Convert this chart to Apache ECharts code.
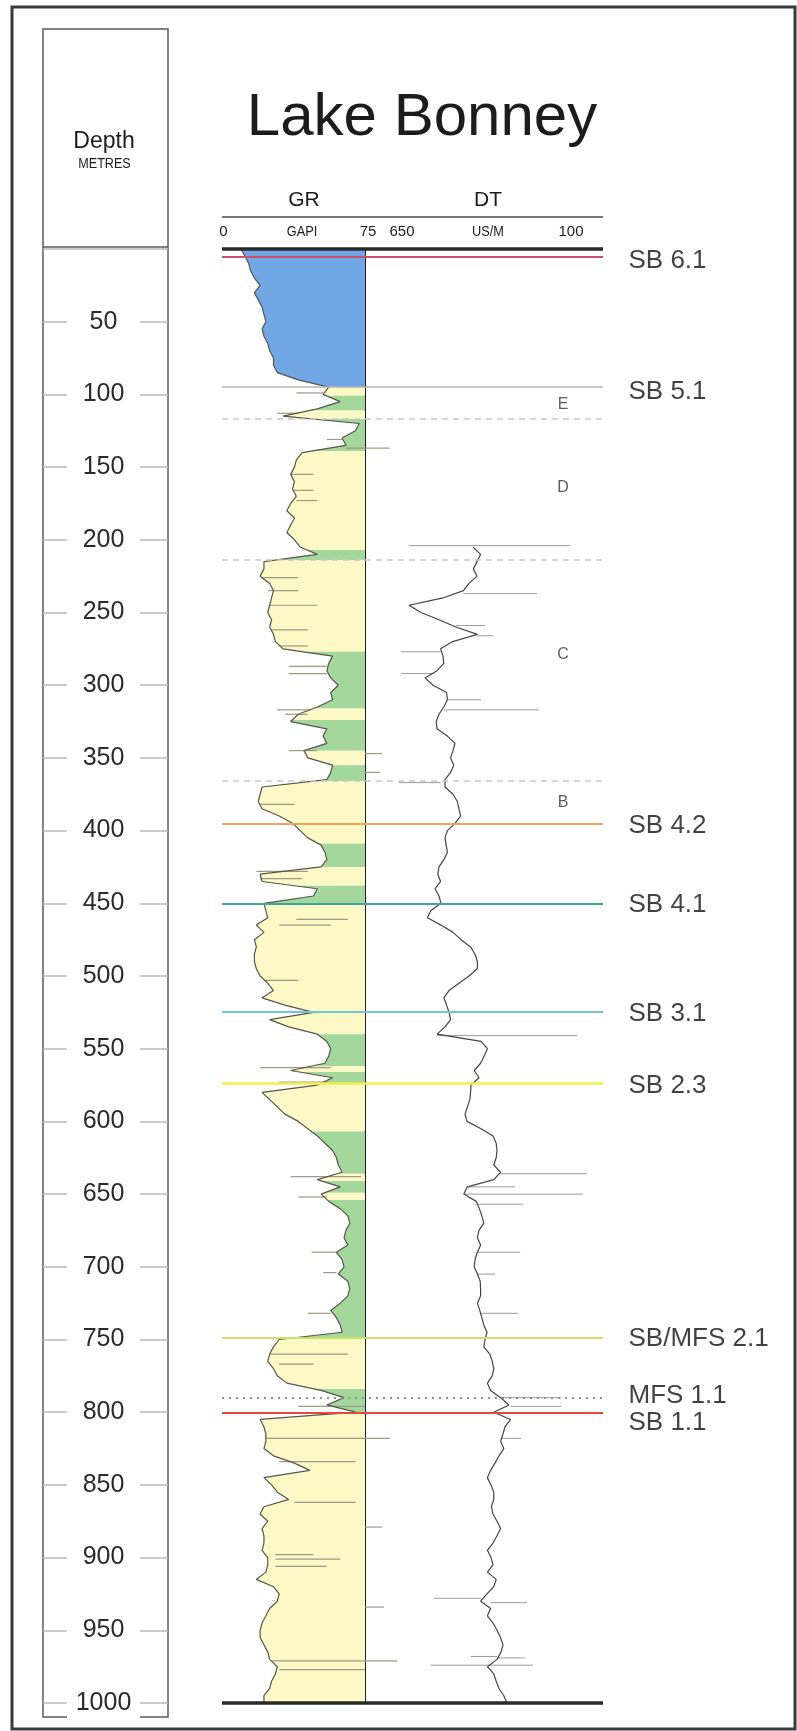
<!DOCTYPE html>
<html>
<head>
<meta charset="utf-8">
<title>Lake Bonney</title>
<script src="https://cdn.jsdelivr.net/npm/echarts@6/dist/echarts.min.js"></script>
<style>
  html, body { margin: 0; padding: 0; background: #ffffff; }
  #chart { width: 797px; height: 1731px; }
</style>
</head>
<body>
<div id="chart"></div>
<script>
// Gamma ray log (GAPI), regularly sampled from the surface
const GR_TOP = 0, GR_STEP = 5;
const GR = [
  10, 12, 14, 15, 17, 20, 17, 19, 21, 22,
  23, 21, 22, 24, 25, 27, 27, 29, 40, 56,
  53, 62, 50, 32, 72, 70, 63, 65, 42, 39,
  38, 36, 38, 37, 39, 36, 34, 38, 36, 34,
  38, 41, 50, 22, 22, 20, 25, 27, 26, 25,
  24, 26, 25, 27, 28, 32, 58, 56, 55, 57,
  61, 57, 58, 50, 40, 36, 55, 53, 55, 43,
  45, 58, 57, 55, 21, 20, 19, 21, 30, 37,
  41, 45, 52, 54, 55, 52, 20, 21, 50, 48,
  22, 23, 24, 18, 22, 17, 18, 17, 17, 18,
  20, 24, 27, 21, 33, 48, 25, 35, 50, 55,
  57, 56, 54, 36, 58, 50, 21, 25, 29, 33,
  40, 45, 50, 54, 58, 60, 61, 63, 50, 62,
  52, 56, 62, 66, 67, 65, 64, 66, 60, 63,
  64, 61, 66, 67, 66, 62, 57, 60, 62, 63,
  30, 27, 25, 24, 27, 29, 34, 52, 64, 55,
  70, 20, 22, 23, 23, 22, 27, 38, 46, 22,
  26, 29, 35, 22, 20, 24, 21, 22, 22, 21,
  24, 24, 23, 18, 27, 30, 29, 25, 23, 21,
  20, 20, 22, 24, 25, 29, 28, 26, 25, 22,
  22
];

// Sonic log (US/M), regularly sampled below the casing shoe
const DT_TOP = 205, DT_STEP = 5;
const DT = [
  380, 361, 370, 379, 370, 390, 404, 455, 540, 510,
  465, 423, 369, 431, 461, 455, 453, 470, 500, 480,
  446, 444, 453, 465, 472, 470, 444, 425, 430, 436,
  428, 436, 450, 450, 430, 419, 415, 411, 425, 444,
  450, 447, 444, 453, 465, 468, 461, 475, 465, 460,
  485, 494, 460, 430, 410, 386, 375, 369, 369, 390,
  415, 440, 453, 446, 440, 436, 450, 470, 360, 344,
  352, 361, 377, 365, 385, 386, 388, 394, 400, 395,
  360, 330, 322, 320, 322, 328, 311, 328, 394, 403,
  372, 364, 358, 353, 365, 369, 361, 369, 375, 377,
  369, 362, 361, 361, 369, 363, 358, 353, 345, 350,
  353, 338, 332, 328, 332, 344, 336, 311, 290, 328,
  286, 300, 305, 311, 303, 315, 325, 336, 344, 335,
  328, 328, 334, 330, 320, 311, 320, 330, 344, 335,
  330, 344, 322, 328, 345, 361, 336, 344, 330, 320,
  311, 305, 310, 320, 344, 328, 322, 315, 303, 295
];

// Thin single-reading excursions: [depth, from, to]
const GR_SPIKES = [
  [99, 39, 53], [113, 29, 40], [131, 55, 63], [137, 65, 88], [155, 36, 48],
  [166, 37, 48], [173, 39, 50], [226, 21, 40], [235, 24, 40], [245, 25, 50],
  [262, 26, 45], [273, 30, 45], [287, 35, 55], [292, 35, 55], [317, 29, 46],
  [320, 33, 45], [345, 35, 50], [347, 75, 84], [360, 75, 83], [382, 20, 38],
  [428, 18, 45], [433, 20, 42], [461, 39, 66], [465, 30, 57], [503, 22, 40],
  [563, 20, 57], [573, 30, 55], [638, 36, 73], [652, 40, 55], [690, 47, 60],
  [704, 53, 60], [732, 45, 57], [760, 25, 66], [767, 30, 48], [796, 40, 75],
  [818, 23, 88], [834, 30, 70], [862, 38, 70], [879, 75, 84], [898, 28, 48],
  [901, 28, 62], [906, 28, 55], [934, 75, 85], [971, 26, 75], [971, 75, 92],
  [977, 30, 75]
];
const DT_SPIKES = [
  [204, 540, 137], [237, 404, 220], [259, 423, 350], [266, 370, 330], [277, 461, 560],
  [292, 478, 560], [310, 444, 360], [317, 453, 215], [367, 461, 565], [541, 470, 120],
  [636, 311, 95], [645, 394, 275], [650, 403, 105], [657, 372, 255], [690, 369, 262],
  [705, 369, 325], [732, 361, 267], [790, 311, 160], [796, 286, 160], [818, 311, 260],
  [928, 361, 478], [931, 336, 245], [968, 320, 386], [969, 320, 250], [974, 344, 486],
  [974, 344, 230]
];

// Interpreted lithology intervals: [top, base, kind]
const LITHOLOGY = [
  [0, 95, 'carbonate'], [95, 101, 'sand'], [101, 111, 'shale'], [111, 117, 'sand'],
  [117, 139, 'shale'], [139, 207, 'sand'], [207, 214, 'shale'], [214, 277, 'sand'],
  [277, 316, 'shale'], [316, 324, 'sand'], [324, 345, 'shale'], [345, 355, 'sand'],
  [355, 366, 'shale'], [366, 409, 'sand'], [409, 425, 'shale'], [425, 438, 'sand'],
  [438, 450, 'shale'], [450, 540, 'sand'], [540, 562, 'shale'], [562, 566, 'sand'],
  [566, 574, 'shale'], [574, 607, 'sand'], [607, 636, 'shale'], [636, 641, 'sand'],
  [641, 649, 'shale'], [649, 654, 'sand'], [654, 749, 'shale'], [749, 784, 'sand'],
  [784, 800, 'shale'], [800, 1000, 'sand']
];

// Sequence surfaces
const SURFACE_NAMES  = ['SB 6.1', 'SB 5.1', 'SB 4.2', 'SB 4.1', 'SB 3.1', 'SB 2.3', 'SB/MFS 2.1', 'MFS 1.1', 'SB 1.1'];
const SURFACE_DEPTHS = [5.5, 95, 395.5, 450, 524.6, 574, 748.5, 790, 800.7];

// Informal units and their bases
const UNIT_NAMES  = ['E', 'D', 'C', 'B'];
const UNIT_LABEL_DEPTHS = [107, 164, 279, 381];
const UNIT_BOUNDS = [117, 213.5, 366];

const LOG_TOP = 0, LOG_BASE = 1000;

// ---- styling ----
const LITHO_COLORS = { carbonate: '#72a7e5', sand: '#fcf9c6', shale: '#a4d79b' };
const SURFACE_STYLE = {
  'SB 6.1':     { color: '#c9506e', width: 2 },
  'SB 5.1':     { color: '#b4b4b4', width: 1.5 },
  'SB 4.2':     { color: '#f2a55a', width: 2 },
  'SB 4.1':     { color: '#3ea79c', width: 2 },
  'SB 3.1':     { color: '#74c3d6', width: 2 },
  'SB 2.3':     { color: '#f4ee4a', width: 2.5 },
  'SB/MFS 2.1': { color: '#cbe168', width: 2 },
  'MFS 1.1':    { color: '#8f8f8f', width: 2, type: [2, 5] },
  'SB 1.1':     { color: '#e8453c', width: 2 }
};
const LABEL_NUDGE = { 'SB 6.1': 4, 'SB 5.1': 5, 'MFS 1.1': -2, 'SB 1.1': 10 };
const FONT = '"Liberation Sans", Arial, sans-serif';
const UNIT_LABEL_X = 0.895;

function grAt(d) {
  let i = (d - GR_TOP) / GR_STEP;
  let i0 = Math.max(0, Math.min(GR.length - 2, Math.floor(i)));
  let t = i - i0;
  return GR[i0] + (GR[i0 + 1] - GR[i0]) * t;
}

const grPoints = GR.map((v, i) => [v, GR_TOP + i * GR_STEP]);
const dtPoints = DT.map((v, i) => [v, DT_TOP + i * DT_STEP]);

const markLines = [];
markLines.push({ yAxis: LOG_TOP, lineStyle: { color: '#2a2a2a', width: 3.5, type: 'solid' } });
markLines.push({ yAxis: LOG_BASE, lineStyle: { color: '#2a2a2a', width: 3.5, type: 'solid' } });
UNIT_BOUNDS.forEach(d => markLines.push({ yAxis: d, lineStyle: { color: '#c9c9c9', width: 1.5, type: [6, 5] } }));
SURFACE_NAMES.forEach((n, i) => {
  const s = SURFACE_STYLE[n];
  markLines.push({ yAxis: SURFACE_DEPTHS[i], lineStyle: { color: s.color, width: s.width, type: s.type || 'solid' } });
});

const chart = echarts.init(document.getElementById('chart'), null, { renderer: 'canvas', width: 797, height: 1731 });

const hdr = (text, x, y, size, extra) => Object.assign({
  type: 'text', x: x, y: y, z: 10,
  style: { text: text, fontSize: size, fontFamily: FONT, fill: '#1c1c1c', align: 'center', verticalAlign: 'middle' }
}, extra || {});

const option = {
  animation: false,
  backgroundColor: '#ffffff',
  grid: [
    { left: 222, top: 249, width: 143, height: 1454 },
    { left: 365, top: 249, width: 220, height: 1454 },
    { left: 222, top: 249, width: 381, height: 1454 },
    { left: 43,  top: 249, width: 125, height: 1454 }
  ],
  xAxis: [
    { gridIndex: 0, type: 'value', min: 0, max: 75, show: false },
    { gridIndex: 1, type: 'value', min: 100, max: 650, inverse: true, show: false },
    { gridIndex: 2, type: 'value', min: 0, max: 1, show: false },
    { gridIndex: 3, type: 'value', min: 0, max: 1, show: false }
  ],
  yAxis: [
    { gridIndex: 0, type: 'value', min: LOG_TOP, max: LOG_BASE, inverse: true, show: false },
    { gridIndex: 1, type: 'value', min: LOG_TOP, max: LOG_BASE, inverse: true,
      axisLine: { show: true, lineStyle: { color: '#1e1e1e', width: 2 } },
      axisTick: { show: false }, axisLabel: { show: false }, splitLine: { show: false } },
    { gridIndex: 2, type: 'value', min: LOG_TOP, max: LOG_BASE, inverse: true, show: false },
    { gridIndex: 3, type: 'value', min: LOG_TOP, max: LOG_BASE, interval: 50, inverse: true,
      axisLine: { show: false }, axisTick: { show: false },
      splitLine: { show: true, lineStyle: { color: '#b9b9b9', width: 1.5 } },
      axisLabel: {
        showMinLabel: false,
        formatter: v => String(v),
        align: 'center', margin: -60.5,
        fontSize: 25, fontFamily: FONT, color: '#2a2a2a',
        backgroundColor: '#ffffff', width: 73, padding: [3, 0]
      } }
  ],
  series: [
    {
      type: 'custom', name: 'lithology', xAxisIndex: 0, yAxisIndex: 0, z: 1,
      data: LITHOLOGY.map(r => [r[0], r[1], 0]),
      encode: { y: [0, 1], x: 2 },
      renderItem: function (params, api) {
        const top = api.value(0), base = api.value(1);
        const kind = LITHOLOGY[params.dataIndex][2];
        const pts = [api.coord([75, top]), api.coord([grAt(top), top])];
        GR.forEach((v, k) => {
          const d = GR_TOP + k * GR_STEP;
          if (d > top && d < base) pts.push(api.coord([v, d]));
        });
        pts.push(api.coord([grAt(base), base]), api.coord([75, base]));
        return { type: 'polygon', shape: { points: pts }, style: { fill: LITHO_COLORS[kind] } };
      }
    },
    {
      type: 'custom', name: 'GR spikes', xAxisIndex: 0, yAxisIndex: 0, z: 2,
      data: GR_SPIKES, encode: { y: 0, x: [1, 2] },
      renderItem: function (params, api) {
        const a = api.coord([api.value(1), api.value(0)]);
        const b = api.coord([api.value(2), api.value(0)]);
        return { type: 'line', shape: { x1: a[0], y1: a[1], x2: b[0], y2: b[1] },
                 style: { stroke: '#9c9a82', lineWidth: 1.2 } };
      }
    },
    {
      type: 'line', name: 'GR', xAxisIndex: 0, yAxisIndex: 0, z: 3,
      data: grPoints, showSymbol: false, symbol: 'none',
      lineStyle: { color: '#55554a', width: 1.2 }
    },
    {
      type: 'custom', name: 'DT spikes', xAxisIndex: 1, yAxisIndex: 1, z: 2,
      data: DT_SPIKES, encode: { y: 0, x: [1, 2] },
      renderItem: function (params, api) {
        const a = api.coord([api.value(1), api.value(0)]);
        const b = api.coord([api.value(2), api.value(0)]);
        return { type: 'line', shape: { x1: a[0], y1: a[1], x2: b[0], y2: b[1] },
                 style: { stroke: '#9a9a9a', lineWidth: 1 } };
      }
    },
    {
      type: 'line', name: 'DT', xAxisIndex: 1, yAxisIndex: 1, z: 3,
      data: dtPoints, showSymbol: false, symbol: 'none',
      lineStyle: { color: '#444444', width: 1.2 }
    },
    {
      type: 'scatter', name: 'surfaces', xAxisIndex: 2, yAxisIndex: 2, z: 5,
      symbolSize: 1, itemStyle: { color: 'rgba(0,0,0,0)' }, silent: true,
      data: SURFACE_NAMES.map((n, i) => ({
        value: [1, SURFACE_DEPTHS[i]], name: n,
        label: { offset: [0, LABEL_NUDGE[n] !== undefined ? LABEL_NUDGE[n] : 2] }
      })),
      label: {
        show: true, position: 'right', distance: 25,
        formatter: p => p.name,
        fontSize: 26, fontFamily: FONT, color: '#111111'
      },
      markLine: { silent: true, symbol: ['none', 'none'], label: { show: false }, data: markLines }
    },
    {
      type: 'scatter', name: 'units', xAxisIndex: 2, yAxisIndex: 2, z: 5,
      symbolSize: 1, itemStyle: { color: 'rgba(0,0,0,0)' }, silent: true,
      data: UNIT_NAMES.map((n, i) => ({ value: [UNIT_LABEL_X, UNIT_LABEL_DEPTHS[i]], name: n })),
      label: { show: true, position: 'inside', formatter: p => p.name,
               fontSize: 16, fontFamily: FONT, color: '#333333' }
    }
  ],
  graphic: [
    { type: 'rect', z: 0, shape: { x: 12, y: 7, width: 783, height: 1722 },
      style: { fill: 'none', stroke: '#3a3a3a', lineWidth: 3 } },
    { type: 'rect', z: 0, shape: { x: 43, y: 29, width: 125, height: 1688 },
      style: { fill: 'none', stroke: '#5a5a5a', lineWidth: 1.5 } },
    { type: 'line', z: 20, shape: { x1: 43, y1: 247, x2: 168, y2: 247 },
      style: { stroke: '#5a5a5a', lineWidth: 1.5 } },
    { type: 'line', z: 0, shape: { x1: 222, y1: 217, x2: 603, y2: 217 },
      style: { stroke: '#777777', lineWidth: 2 } },
    hdr('Depth', 104, 142, 23),
    hdr('METRES', 104.5, 164, 14, { scaleX: 0.9 }),
    hdr('Lake Bonney', 422, 118, 60),
    hdr('GR', 304, 200, 21),
    hdr('DT', 488, 200, 21),
    hdr('0', 223.5, 232, 15),
    hdr('GAPI', 302, 232, 15, { scaleX: 0.85 }),
    hdr('75', 368, 232, 15),
    hdr('650', 402, 232, 15),
    hdr('US/M', 488, 232, 15, { scaleX: 0.85 }),
    hdr('100', 571, 232, 15)
  ]
};

chart.setOption(option);
</script>
</body>
</html>
